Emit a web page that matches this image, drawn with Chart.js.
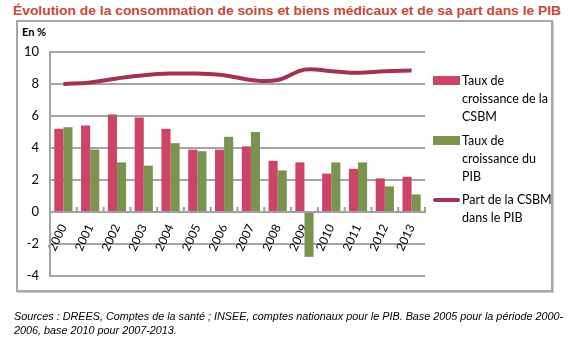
<!DOCTYPE html>
<html>
<head>
<meta charset="utf-8">
<script src="https://cdn.jsdelivr.net/npm/chart.js@4.4.1/dist/chart.umd.min.js"></script>
<style>
  html, body { margin: 0; padding: 0; background: #fff; }
  #wrap { position: relative; width: 577px; height: 350px; overflow: hidden; }
  #title { position: absolute; left: 13px; top: 3px; white-space: nowrap;
    font: bold 13px "Liberation Sans", Arial, sans-serif; color: #c9473a; transform-origin: 0 0; }
  #frame { position: absolute; left: 16px; top: 20px; width: 533px; height: 268px;
    border: 2px solid #a8a8a8; box-shadow: 1px 1px 0 #c8c8c8; }
  #unit { position: absolute; left: 22px; top: 25px; font: bold 11px Lato, sans-serif; color: #000; }
  canvas { position: absolute; left: 0; top: 0; }
  .leg { position: absolute; left: 433px; font: 12.5px Lato, sans-serif; line-height: 18px; color: #000; }
  .leg span.txt { position: absolute; left: 29px; top: 0; white-space: nowrap; }
  .sw { position: absolute; left: 0; width: 27px; }
  #note { position: absolute; left: 14px; top: 310px; white-space: nowrap;
    font: italic 10px "Liberation Sans", Arial, sans-serif; line-height: 14px; color: #000; transform-origin: 0 0; }
</style>
</head>
<body>
<div id="wrap">
  <div id="title">Évolution de la consommation de soins et biens médicaux et de sa part dans le PIB</div>
  <div id="frame"></div>
  <div id="unit">En %</div>
  <canvas id="chart" width="577" height="350"></canvas>
  <div class="leg" style="top:72px"><div class="sw" style="top:4px;height:9px;background:#cc4466"></div><span class="txt">Taux de<br>croissance de la<br>CSBM</span></div>
  <div class="leg" style="top:132px"><div class="sw" style="top:4px;height:9px;background:#7a9450"></div><span class="txt">Taux de<br>croissance du<br>PIB</span></div>
  <div class="leg" style="top:191px"><div class="sw" style="top:7px;height:4px;background:#a3324f;border-radius:2px"></div><span class="txt">Part de la CSBM<br>dans le PIB</span></div>
  <div id="note">Sources : DREES, Comptes de la santé ; INSEE, comptes nationaux pour le PIB. Base 2005 pour la période 2000-<br>2006, base 2010 pour 2007-2013.</div>
</div>
<script>
// data
const years = ['2000', '2001', '2002', '2003', '2004', '2005', '2006', '2007', '2008', '2009', '2010', '2011', '2012', '2013'];
const csbmGrowth = [5.2, 5.4, 6.1, 5.9, 5.2, 3.9, 3.9, 4.1, 3.2, 3.1, 2.4, 2.7, 2.1, 2.2];
const gdpGrowth = [5.3, 3.9, 3.1, 2.9, 4.3, 3.8, 4.7, 5.0, 2.6, -2.8, 3.1, 3.1, 1.6, 1.1];
const csbmShare = [8.0, 8.1, 8.35, 8.55, 8.65, 8.65, 8.55, 8.25, 8.25, 8.9, 8.8, 8.7, 8.8, 8.85];
const yTicks = [-4, -2, 0, 2, 4, 6, 8, 10];

// squeeze title / note to the reference width
function fitWidth(id, w) {
  const el = document.getElementById(id);
  el.style.transform = 'scaleX(' + (w / el.offsetWidth) + ')';
}
fitWidth('title', 548);
fitWidth('note', 549);

// small upward tick marks on the zero line, between categories
const zeroTicks = {
  id: 'zeroTicks',
  afterDatasetsDraw(chart) {
    const x = chart.scales.x, y = chart.scales.y;
    const ctx = chart.ctx;
    const y0 = y.getPixelForValue(0);
    const step = (x.right - x.left) / years.length;
    ctx.save();
    ctx.strokeStyle = '#a0a0a0';
    ctx.lineWidth = 2;
    for (let i = 0; i <= years.length; i++) {
      const px = x.left + i * step;
      ctx.beginPath();
      ctx.moveTo(px, y0);
      ctx.lineTo(px, y0 - 5);
      ctx.stroke();
    }
    ctx.restore();
  }
};

const ctx = document.getElementById('chart').getContext('2d');
new Chart(ctx, {
  data: {
    labels: years,
    datasets: [
      {
        type: 'line',
        label: 'Part de la CSBM dans le PIB',
        data: csbmShare,
        borderColor: '#a3324f',
        borderWidth: 4,
        pointRadius: 0,
        tension: 0.4,
        order: 0
      },
      {
        type: 'bar',
        label: 'Taux de croissance de la CSBM',
        data: csbmGrowth,
        backgroundColor: '#cc4466',
        categoryPercentage: 0.68,
        barPercentage: 1,
        order: 1
      },
      {
        type: 'bar',
        label: 'Taux de croissance du PIB',
        data: gdpGrowth,
        backgroundColor: '#7a9450',
        categoryPercentage: 0.68,
        barPercentage: 1,
        order: 1
      }
    ]
  },
  options: {
    responsive: false,
    animation: false,
    layout: { padding: { left: 0, top: 52, right: 152, bottom: 74 } },
    plugins: {
      legend: { display: false },
      tooltip: { enabled: false }
    },
    scales: {
      x: {
        position: { y: 0 },
        grid: { display: false },
        border: { display: true, color: '#a0a0a0', width: 2 },
        ticks: {
          minRotation: 65,
          maxRotation: 65,
          padding: 2,
          color: '#000',
          font: { family: 'Lato', size: 12 }
        }
      },
      y: {
        min: -4,
        max: 10,
        afterBuildTicks(scale) {
          scale.ticks = yTicks.map(v => ({ value: v }));
        },
        afterFit(scale) { scale.width = 50; },
        grid: { color: '#a6a6a6', lineWidth: 2, drawTicks: false },
        border: { display: true, color: '#a6a6a6', width: 2 },
        ticks: {
          padding: 11,
          color: '#000',
          font: { family: 'Lato', size: 13 }
        }
      }
    }
  },
  plugins: [zeroTicks]
});
</script>
</body>
</html>
